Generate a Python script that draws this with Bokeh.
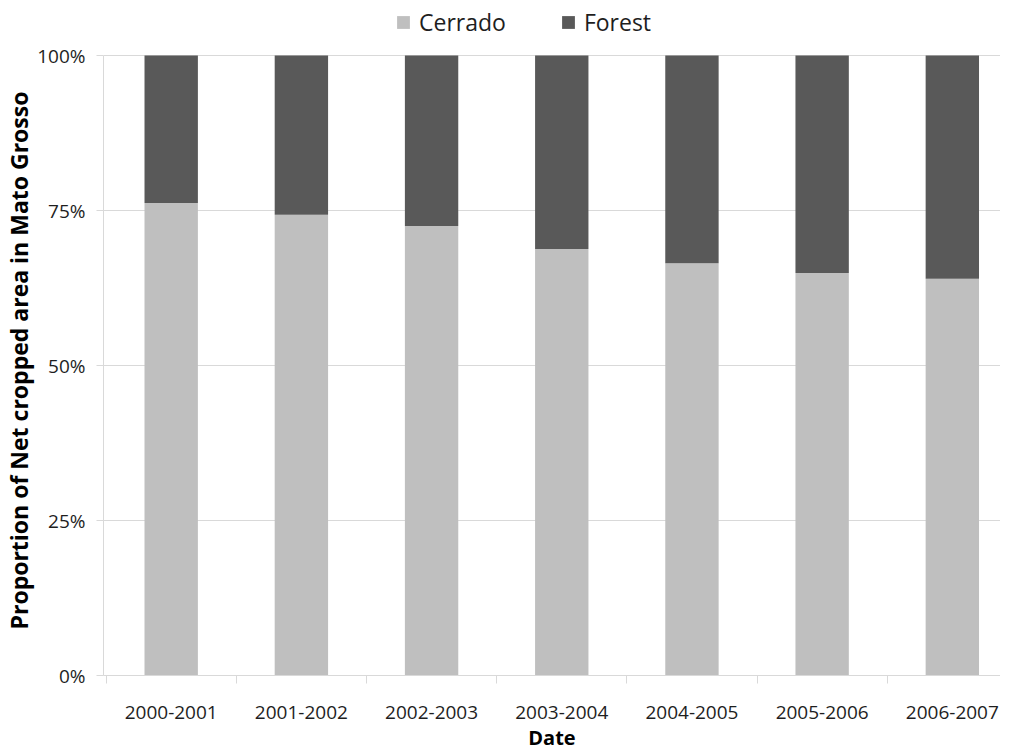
from bokeh.plotting import figure
from bokeh.models import Range1d, FixedTicker, PrintfTickFormatter, Legend, LegendItem
from bokeh.embed import file_html
from bokeh.resources import INLINE

categories = ["2000-2001", "2001-2002", "2002-2003", "2003-2004", "2004-2005", "2005-2006", "2006-2007"]
cerrado = [76.2, 74.3, 72.5, 68.8, 66.5, 64.9, 64.0]
forest = [round(100 - c, 1) for c in cerrado]
y_ticks = [0, 25, 50, 75, 100]
y_title = "Proportion of Net cropped area in Mato Grosso"

idx = list(range(len(categories)))
tops = [c + f for c, f in zip(cerrado, forest)]

FONT = "Open Sans"
TXT = "#1e1e1e"

H = 753
BOTTOM = 78
frame_h = H - BOTTOM
y_end = 100 * frame_h / 620.0

p = figure(width=1000, height=H, output_backend="svg", toolbar_location=None,
           title=y_title, title_location="left",
           x_range=Range1d(-0.52, 6.37), y_range=Range1d(0, y_end),
           min_border_left=102, min_border_right=0, min_border_top=0, min_border_bottom=BOTTOM)
p.outline_line_color = None
p.background_fill_color = "white"

p.title.text_font = FONT
p.title.text_font_style = "bold"
p.title.text_font_size = "23px"
p.title.text_color = "#000000"
p.title.align = "left"
p.title.offset = 46
p.title.standoff = 0

r1 = p.vbar(x=idx, bottom=0, top=cerrado, width=0.41, fill_color="#bfbfbf", line_color=None)
r2 = p.vbar(x=idx, bottom=cerrado, top=tops, width=0.41, fill_color="#595959", line_color=None)

# x axis
p.xaxis.ticker = FixedTicker(ticks=idx, minor_ticks=[i - 0.5 for i in idx] + [len(idx) - 0.5])
p.xaxis.major_label_overrides = {i: c for i, c in zip(idx, categories)}
p.xaxis.major_tick_line_color = None
p.xaxis.major_tick_out = 0
p.xaxis.major_tick_in = 0
p.xaxis.minor_tick_out = 8
p.xaxis.minor_tick_in = 0
p.xaxis.minor_tick_line_color = "#d9d9d9"
p.xaxis.axis_line_color = "#d9d9d9"
p.xaxis.major_label_standoff = 22
p.xaxis.major_label_text_font = FONT
p.xaxis.major_label_text_font_size = "19px"
p.xaxis.major_label_text_color = TXT
p.xaxis.axis_label = "Date"
p.xaxis.axis_label_text_font = FONT
p.xaxis.axis_label_text_font_style = "bold"
p.xaxis.axis_label_text_font_size = "20px"
p.xaxis.axis_label_text_color = "#000000"
p.xaxis.axis_label_standoff = 2

# y axis
p.yaxis.ticker = FixedTicker(ticks=y_ticks)
p.yaxis.bounds = (0, 100)
p.yaxis.formatter = PrintfTickFormatter(format="%d%%")
p.yaxis.minor_tick_line_color = None
p.yaxis.major_tick_out = 7
p.yaxis.major_tick_in = 0
p.yaxis.major_tick_line_color = "#d9d9d9"
p.yaxis.axis_line_color = "#d9d9d9"
p.yaxis.major_label_standoff = 11
p.yaxis.major_label_text_font = FONT
p.yaxis.major_label_text_font_size = "19px"
p.yaxis.major_label_text_color = TXT

p.xgrid.grid_line_color = None
p.ygrid.grid_line_color = "#d9d9d9"
p.ygrid.grid_line_width = 1

legend = Legend(items=[LegendItem(label="Cerrado", renderers=[r1]),
                       LegendItem(label="Forest", renderers=[r2])],
                orientation="horizontal", location=(292, frame_h - 38),
                padding=0, margin=0, spacing=54, label_standoff=8,
                glyph_width=16, glyph_height=16,
                label_text_font=FONT, label_text_font_size="23px", label_text_color=TXT,
                border_line_color=None, background_fill_alpha=0)
p.add_layout(legend, "center")

open("out.html", "w").write(file_html(p, INLINE))
